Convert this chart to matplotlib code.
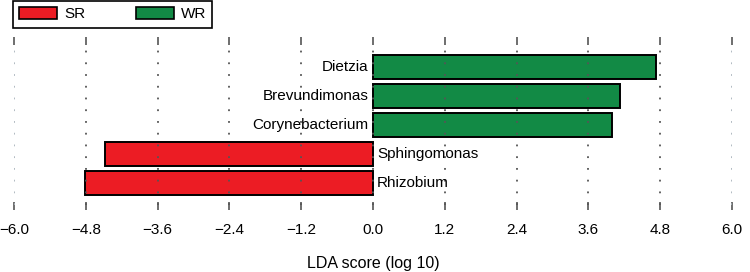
import matplotlib.pyplot as plt
from matplotlib.patches import Patch

plt.rcParams['font.family'] = ['Liberation Sans', 'DejaVu Sans']

taxa = ['Rhizobium', 'Sphingomonas', 'Corynebacterium', 'Brevundimonas', 'Dietzia']
lda = [-4.82, -4.48, 4.0, 4.13, 4.73]
groups = ['SR', 'SR', 'WR', 'WR', 'WR']
colors = {'SR': '#EC1C24', 'WR': '#128A45'}
xticks = [-6.0, -4.8, -3.6, -2.4, -1.2, 0.0, 1.2, 2.4, 3.6, 4.8, 6.0]

fig = plt.figure(figsize=(7.5, 2.72), dpi=100)
ax = fig.add_axes([14 / 750, 1 - 210 / 272, 718 / 750, 173 / 272])

ypos = list(range(len(taxa)))
ax.barh(ypos, lda, height=0.8, color=[colors[g] for g in groups],
        edgecolor='black', linewidth=1.4, zorder=1)

for y, v, name in zip(ypos, lda, taxa):
    if v > 0:
        ax.text(-0.07, y, name, ha='right', va='center', fontsize=11, zorder=3)
    else:
        ax.text(0.07, y, name, ha='left', va='center', fontsize=11, zorder=3)

ax.set_xlim(-6, 6)
ax.set_ylim(-0.93, 5.03)
ax.set_xticks(xticks)
ax.set_xticklabels(['%.1f' % t if t >= 0 else '\u2212%.1f' % -t for t in xticks])
ax.set_yticks([])
for s in ax.spines.values():
    s.set_visible(False)
ax.tick_params(axis='x', direction='in', length=6, width=1.2, color='#555555',
               top=True, bottom=True, labelsize=11, pad=9)
for t in xticks:
    c = '#aab4bc' if abs(t) == 6.0 else '#555555'
    ax.plot([t, t], [-0.75, 4.85], linestyle=(0, (1, 5.5)), color=c,
            linewidth=1.3, zorder=2)
ax.set_xlabel('LDA score (log 10)', fontsize=11.5, labelpad=14)

handles = [Patch(facecolor=colors['SR'], edgecolor='black', linewidth=1.2, label='SR'),
           Patch(facecolor=colors['WR'], edgecolor='black', linewidth=1.2, label='WR')]
leg = fig.legend(handles=handles, loc='upper left', bbox_to_anchor=(13 / 750, 1 - 1 / 272),
                 ncol=2, fontsize=11, frameon=True, fancybox=False, edgecolor='black',
                 framealpha=1, handlelength=2.5, handleheight=0.85, columnspacing=3.3,
                 borderpad=0.4, handletextpad=0.45, borderaxespad=0)
leg.get_frame().set_linewidth(1.2)

fig.savefig('out.png', dpi=100)
